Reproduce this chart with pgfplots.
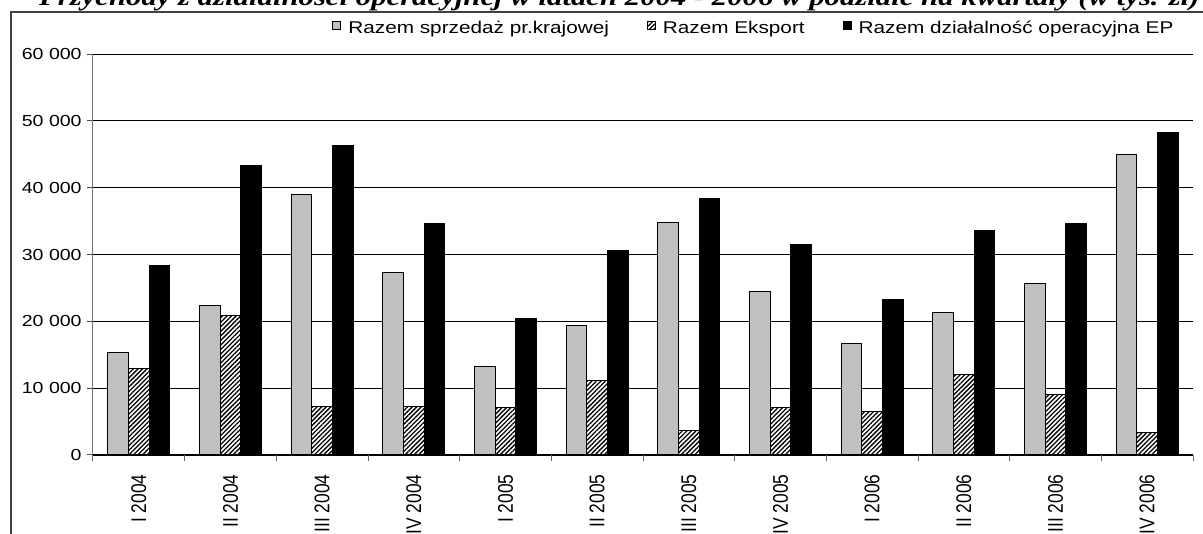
\documentclass[border=0pt]{standalone}
\usepackage{pgfplots}
\pgfplotsset{compat=1.18}
\usepackage{fontspec}
\usetikzlibrary{patterns.meta}
\setmainfont{Liberation Sans}
\newfontfamily\chartfont{Liberation Sans}[FakeStretch=1.22]
\newfontfamily\plainfont{Liberation Sans}
\newfontfamily\titlefont{Liberation Serif}[FakeStretch=1.22]
\definecolor{barGray}{RGB}{192,192,192}
\newcommand{\xl}[1]{\scalebox{1}[1.22]{#1}}
\pgfplotsset{sqlegend/.style={legend image code/.code={\draw[##1] (0pt,-0.3pt) rectangle (4pt,3.7pt);}}}
\begin{document}
\begin{tikzpicture}
\node[anchor=base east, inner sep=0pt, font=\titlefont\bfseries\itshape\fontsize{12.6}{14}\selectfont] at (600pt,264.3pt)
  {Przychody z działalności operacyjnej w latach 2004 - 2006 w podziale na kwartały (w tys. zł)};
\draw[line width=0.75pt, black!75] (5.5pt,-2pt) -- (5.5pt,261pt) -- (605pt,261pt);
\begin{axis}[
  at={(46.5pt,39.5pt)}, anchor=south west,
  scale only axis, width=550pt, height=200.5pt,
  xmin=-0.5, xmax=11.5, ymin=0, ymax=60000,
  ybar=0pt, bar width=10.3pt,
  axis x line*=bottom, axis y line*=left,
  x axis line style={black, line width=0.5pt, -},
  y axis line style={black!55, line width=0.5pt, -},
  ytick={0,10000,...,60000},
  ymajorgrids, grid style={black, line width=0.45pt},
  tick align=outside,
  major tick length=3pt,
  xtick={0,...,11},
  x tick style={draw=none},
  minor xtick={-0.5,0.5,...,11.5},
  minor x tick style={draw=black!60, line width=0.5pt},
  minor tick length=2.8pt,
  y tick style={black!70, line width=0.5pt},
  xticklabels={\xl{I 2004},\xl{II 2004},\xl{III 2004},\xl{IV 2004},\xl{I 2005},\xl{II 2005},\xl{III 2005},\xl{IV 2005},\xl{I 2006},\xl{II 2006},\xl{III 2006},\xl{IV 2006}},
  xticklabel style={rotate=90, anchor=east, font=\plainfont\fontsize{8.7}{10}\selectfont, inner sep=0pt},
  xticklabel shift=6.5pt,
  yticklabel style={font=\chartfont\fontsize{8}{9.6}\selectfont, inner sep=0pt},
  yticklabel shift=2.5pt,
  scaled y ticks=false,
  /pgf/number format/.cd, assume math mode=true, 1000 sep={\ }, fixed, precision=0,
  /pgfplots/.cd,
  legend columns=3,
  legend style={at={(0.2173,1.062)}, anchor=west, draw=none, fill=none, inner sep=0pt,
    font=\chartfont\fontsize{8.5}{10}\selectfont,
    nodes={inner sep=0pt},
    /tikz/every odd column/.append style={column sep=3.5pt},
    /tikz/every even column/.append style={column sep=19pt}},
]
\addplot[draw=black, line width=0.5pt, fill=barGray, sqlegend]
  coordinates {(0,15300) (1,22300) (2,39000) (3,27300) (4,13300) (5,19400) (6,34800) (7,24400) (8,16700) (9,21300) (10,25600) (11,44900)};
\addplot[draw=black, line width=0.5pt, fill=white,
  postaction={pattern={Lines[angle=45,distance=1.6pt,line width=0.65pt]}}, sqlegend]
  coordinates {(0,12900) (1,20900) (2,7300) (3,7300) (4,7100) (5,11100) (6,3600) (7,7100) (8,6500) (9,12100) (10,9000) (11,3300)};
\addplot[draw=black, line width=0.5pt, fill=black, sqlegend]
  coordinates {(0,28300) (1,43300) (2,46300) (3,34600) (4,20400) (5,30600) (6,38400) (7,31500) (8,23200) (9,33600) (10,34600) (11,48200)};
\legend{Razem sprzedaż pr.krajowej, Razem Eksport, Razem działalność operacyjna EP}
\end{axis}
\pgfresetboundingbox
\path[use as bounding box] (0,0) rectangle (601.5pt,267pt);
\end{tikzpicture}
\end{document}
